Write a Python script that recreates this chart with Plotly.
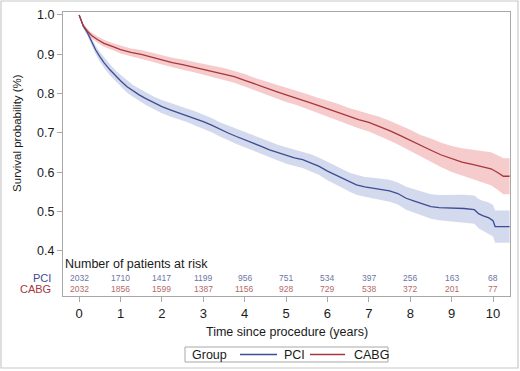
import plotly.graph_objects as go

# ---------------- data ----------------
pci_t = [0, 0.05, 0.1, 0.2, 0.3, 0.4, 0.5, 0.6, 0.75, 0.9, 1.0, 1.15, 1.3, 1.45, 1.6, 1.8,
         2.0, 2.2, 2.4, 2.6, 2.8, 3.0, 3.2, 3.4, 3.6, 3.8, 4.0, 4.2, 4.4, 4.6, 4.8, 5.0,
         5.2, 5.4, 5.6, 5.8, 6.0, 6.2, 6.4, 6.55, 6.7, 6.9, 7.1, 7.3, 7.5, 7.7, 7.9, 8.1,
         8.3, 8.5, 8.7, 9.0, 9.3, 9.55, 9.65, 9.75, 9.9, 10.0, 10.05, 10.4]
pci_s = [1.000, 0.984, 0.972, 0.955, 0.932, 0.911, 0.894, 0.879, 0.860, 0.843, 0.833, 0.818,
         0.807, 0.797, 0.788, 0.777, 0.767, 0.759, 0.752, 0.745, 0.737, 0.729, 0.720, 0.709,
         0.700, 0.691, 0.683, 0.674, 0.666, 0.657, 0.650, 0.643, 0.637, 0.632, 0.624, 0.615,
         0.603, 0.593, 0.582, 0.574, 0.568, 0.563, 0.560, 0.557, 0.553, 0.546, 0.534, 0.527,
         0.520, 0.513, 0.510, 0.509, 0.508, 0.505, 0.495, 0.490, 0.484, 0.477, 0.462, 0.462]
pci_up = [1.000, 0.987, 0.978, 0.963, 0.942, 0.922, 0.906, 0.892, 0.874, 0.857, 0.848, 0.833,
          0.822, 0.813, 0.804, 0.793, 0.784, 0.776, 0.769, 0.762, 0.755, 0.747, 0.738, 0.727,
          0.719, 0.710, 0.702, 0.693, 0.686, 0.677, 0.670, 0.664, 0.658, 0.653, 0.646, 0.637,
          0.626, 0.616, 0.606, 0.598, 0.593, 0.588, 0.586, 0.584, 0.581, 0.574, 0.563, 0.557,
          0.551, 0.544, 0.542, 0.543, 0.543, 0.541, 0.532, 0.528, 0.523, 0.517, 0.503, 0.503]
pci_lo = [1.000, 0.981, 0.966, 0.947, 0.922, 0.900, 0.882, 0.866, 0.846, 0.829, 0.818, 0.803,
          0.792, 0.781, 0.772, 0.761, 0.750, 0.742, 0.735, 0.728, 0.719, 0.711, 0.702, 0.691,
          0.681, 0.672, 0.664, 0.655, 0.646, 0.637, 0.630, 0.622, 0.616, 0.611, 0.602, 0.593,
          0.580, 0.570, 0.558, 0.550, 0.543, 0.538, 0.534, 0.530, 0.525, 0.518, 0.505, 0.497,
          0.489, 0.482, 0.478, 0.475, 0.473, 0.469, 0.458, 0.452, 0.445, 0.437, 0.421, 0.421]

cabg_t = [0, 0.05, 0.1, 0.2, 0.3, 0.45, 0.6, 0.8, 1.0, 1.25, 1.5, 1.75, 2.0, 2.25, 2.5, 2.75,
          3.0, 3.25, 3.5, 3.75, 4.0, 4.25, 4.5, 4.75, 5.0, 5.25, 5.5, 5.75, 6.0, 6.25, 6.5,
          6.75, 7.0, 7.25, 7.5, 7.75, 8.0, 8.25, 8.5, 8.75, 9.0, 9.25, 9.5, 9.75, 9.95, 10.1,
          10.25, 10.4]
cabg_s = [1.000, 0.983, 0.972, 0.959, 0.948, 0.937, 0.928, 0.920, 0.912, 0.905, 0.900, 0.893,
          0.886, 0.879, 0.874, 0.868, 0.862, 0.856, 0.850, 0.843, 0.834, 0.824, 0.815, 0.806,
          0.797, 0.789, 0.780, 0.771, 0.762, 0.753, 0.743, 0.734, 0.727, 0.717, 0.706, 0.694,
          0.681, 0.667, 0.656, 0.644, 0.634, 0.626, 0.620, 0.614, 0.609, 0.600, 0.590, 0.590]
cabg_up = [1.000, 0.986, 0.977, 0.965, 0.955, 0.945, 0.937, 0.929, 0.922, 0.915, 0.911, 0.904,
           0.898, 0.891, 0.887, 0.881, 0.876, 0.870, 0.865, 0.858, 0.850, 0.840, 0.832, 0.823,
           0.815, 0.807, 0.799, 0.790, 0.782, 0.774, 0.764, 0.756, 0.750, 0.741, 0.731, 0.720,
           0.708, 0.695, 0.686, 0.675, 0.667, 0.661, 0.657, 0.654, 0.651, 0.644, 0.636, 0.636]
cabg_lo = [1.000, 0.980, 0.967, 0.953, 0.941, 0.929, 0.919, 0.911, 0.902, 0.895, 0.889, 0.882,
           0.874, 0.867, 0.861, 0.855, 0.848, 0.842, 0.835, 0.828, 0.818, 0.808, 0.798, 0.789,
           0.779, 0.771, 0.761, 0.752, 0.742, 0.732, 0.722, 0.712, 0.704, 0.693, 0.681, 0.668,
           0.654, 0.639, 0.626, 0.613, 0.601, 0.591, 0.583, 0.574, 0.567, 0.556, 0.544, 0.544]

risk_times = [0, 1, 2, 3, 4, 5, 6, 7, 8, 9, 10]
risk_pci = [2032, 1710, 1417, 1199, 956, 751, 534, 397, 256, 163, 68]
risk_cabg = [2032, 1856, 1599, 1387, 1156, 928, 729, 538, 372, 201, 77]

x_ticks = [0, 1, 2, 3, 4, 5, 6, 7, 8, 9, 10]
y_ticks = [0.4, 0.5, 0.6, 0.7, 0.8, 0.9, 1.0]

# ---------------- style ----------------
PCI_LINE = "#3d4c94"
CABG_LINE = "#a8363c"
PCI_BAND = "rgba(120,140,200,0.32)"
CABG_BAND = "rgba(230,110,110,0.36)"
PCI_NUM = "#6a76a6"
CABG_NUM = "#b46a6a"
FONT = "Liberation Sans, Arial, sans-serif"
AXIS = "#a8a8a8"
TXT = "#1a1a1a"

fig = go.Figure()

# confidence bands
fig.add_trace(go.Scatter(x=pci_t, y=pci_up, mode="lines", line=dict(width=0),
                         showlegend=False, hoverinfo="skip"))
fig.add_trace(go.Scatter(x=pci_t, y=pci_lo, mode="lines", line=dict(width=0),
                         fill="tonexty", fillcolor=PCI_BAND, showlegend=False, hoverinfo="skip"))
fig.add_trace(go.Scatter(x=cabg_t, y=cabg_up, mode="lines", line=dict(width=0),
                         showlegend=False, hoverinfo="skip"))
fig.add_trace(go.Scatter(x=cabg_t, y=cabg_lo, mode="lines", line=dict(width=0),
                         fill="tonexty", fillcolor=CABG_BAND, showlegend=False, hoverinfo="skip"))

# survival curves
fig.add_trace(go.Scatter(x=pci_t, y=pci_s, mode="lines", name="PCI", showlegend=False,
                         line=dict(color=PCI_LINE, width=1.3)))
fig.add_trace(go.Scatter(x=cabg_t, y=cabg_s, mode="lines", name="CABG", showlegend=False,
                         line=dict(color=CABG_LINE, width=1.3)))

annotations = []
annotations.append(dict(x=-0.38, y=0.368, xref="x", yref="y", text="Number of patients at risk",
                        showarrow=False, xanchor="left", yanchor="middle",
                        font=dict(family=FONT, size=12.5, color=TXT)))
for t, n in zip(risk_times, risk_pci):
    annotations.append(dict(x=t, y=0.331, xref="x", yref="y", text=str(n), showarrow=False,
                            xanchor="center", yanchor="middle",
                            font=dict(family=FONT, size=8.5, color=PCI_NUM)))
for t, n in zip(risk_times, risk_cabg):
    annotations.append(dict(x=t, y=0.303, xref="x", yref="y", text=str(n), showarrow=False,
                            xanchor="center", yanchor="middle",
                            font=dict(family=FONT, size=8.5, color=CABG_NUM)))
annotations.append(dict(x=-0.022, y=0.331, xref="paper", yref="y", text="PCI", showarrow=False,
                        xanchor="right", yanchor="middle",
                        font=dict(family=FONT, size=11, color=PCI_LINE)))
annotations.append(dict(x=-0.022, y=0.303, xref="paper", yref="y", text="CABG", showarrow=False,
                        xanchor="right", yanchor="middle",
                        font=dict(family=FONT, size=11, color=CABG_LINE)))
# axis titles
annotations.append(dict(x=0.5, y=-0.125, xref="paper", yref="paper",
                        text="Time since procedure (years)", showarrow=False,
                        xanchor="center", yanchor="middle",
                        font=dict(family=FONT, size=12.5, color=TXT)))
annotations.append(dict(x=-0.103, y=0.7, xref="paper", yref="y",
                        text="Survival probability (%)", showarrow=False, textangle=-90,
                        xanchor="center", yanchor="middle",
                        font=dict(family=FONT, size=11.5, color=TXT)))

# legend (drawn as a boxed key below the axis title)
LEG_Y = -0.206
legend_items = [("Group", None, 0.284, None),
                ("PCI", PCI_LINE, 0.4899, (0.3960, 0.4787)),
                ("CABG", CABG_LINE, 0.6465, (0.5526, 0.6309))]
shapes = [dict(type="rect", xref="paper", yref="paper",
               x0=-0.1387, x1=1.0179, y0=-0.2535, y1=1.0387,
               line=dict(color="#c8c8c8", width=1.2), layer="below"),
          dict(type="rect", xref="paper", yref="paper",
               x0=0.2729, x1=0.7271, y0=-0.2324, y1=-0.1796,
               line=dict(color="#a8a8a8", width=1), fillcolor="white", layer="below")]
for label, color, tx, seg in legend_items:
    annotations.append(dict(x=tx, y=LEG_Y, xref="paper", yref="paper", text=label,
                            showarrow=False, xanchor="left", yanchor="middle",
                            font=dict(family=FONT, size=12.5, color=TXT)))
    if seg is not None:
        shapes.append(dict(type="line", xref="paper", yref="paper",
                           x0=seg[0], x1=seg[1], y0=LEG_Y, y1=LEG_Y,
                           line=dict(color=color, width=1.3)))

fig.update_layout(
    width=520, height=371,
    margin=dict(l=63, r=10, t=12, b=75, autoexpand=False),
    paper_bgcolor="white", plot_bgcolor="white",
    font=dict(family=FONT, color="#222222"),
    annotations=annotations,
    shapes=shapes,
    showlegend=False,
)

fig.update_xaxes(range=[-0.39, 10.41], tickvals=x_ticks, ticktext=[str(v) for v in x_ticks],
                 ticks="outside", ticklen=5, tickcolor=AXIS, showline=True, linecolor=AXIS,
                 linewidth=1, mirror=True, showgrid=False, zeroline=False, automargin=False,
                 tickfont=dict(family=FONT, size=13, color=TXT))
fig.update_yaxes(range=[0.2855, 1.0076], tickvals=y_ticks, ticktext=[f"{v:.1f}" for v in y_ticks],
                 ticks="outside", ticklen=5, tickcolor=AXIS, showline=True, linecolor=AXIS,
                 linewidth=1, mirror=True, showgrid=False, zeroline=False, automargin=False,
                 tickfont=dict(family=FONT, size=12.5, color=TXT))

fig.write_html("out.html", config={"displayModeBar": False},
               post_script="document.body.style.margin='0';document.body.style.overflow='hidden';")
